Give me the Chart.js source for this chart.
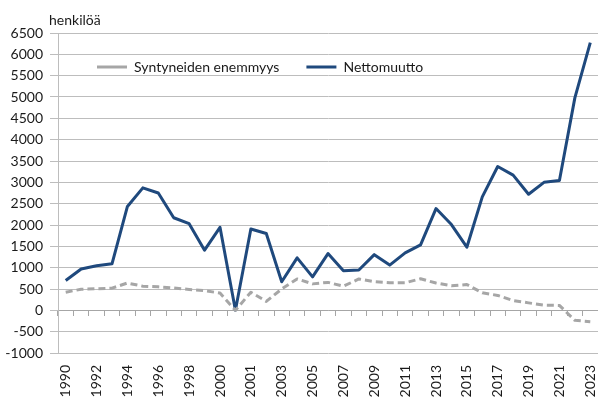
<!DOCTYPE html>
<html>
<head>
<meta charset="utf-8">
<script src="https://cdn.jsdelivr.net/npm/chart.js@4/dist/chart.umd.min.js"></script>
<style>
html,body{margin:0;padding:0;background:#ffffff;}
#wrap{width:598px;height:400px;position:relative;}
</style>
</head>
<body>
<div id="wrap"><canvas id="c" width="598" height="400"></canvas></div>
<script>
// ---- data ----
const categories = ['1990','1991','1992','1993','1994','1995','1996','1997','1998','1999','2000','',
  '2001','2002','2003','2004','2005','2006','2007','2008','2009','2010','2011','2012','2013','2014',
  '2015','2016','2017','2018','2019','2020','2021','2022','2023'];
const nettomuutto = [700, 970, 1045, 1090, 2435, 2870, 2750, 2170, 2030, 1410, 1945, 0,
  1905, 1800, 670, 1230, 785, 1330, 930, 945, 1305, 1060, 1345, 1535, 2385, 2010,
  1480, 2660, 3370, 3170, 2720, 3000, 3045, 4980, 6275];
const syntyneidenEnemmyys = [425, 495, 505, 520, 640, 565, 550, 525, 490, 460, 405, 0,
  425, 210, 500, 735, 620, 655, 565, 735, 670, 645, 645, 740, 640, 575,
  605, 410, 350, 230, 175, 120, 115, -235, -265];
const seriesNames = ['Syntyneiden enemmyys', 'Nettomuutto'];
const yMin = -1000, yMax = 6500, yStep = 500;
const unitLabel = 'henkilöä';

const FONT = 'Lato';
const TXT = '#1a1a1a';
const GRID = '#bdbdbd';

const insideLegend = {
  id: 'insideLegend',
  beforeLayout(chart) {
    const lg = chart.legend;
    if (lg && !lg.__patched) {
      const origFit = lg.fit;
      lg.fit = function () { origFit.call(this); this.__h = this.height; this.height = 0; };
      lg.__patched = true;
    }
  },
  afterLayout(chart) {
    const lg = chart.legend, ca = chart.chartArea;
    if (!lg) return;
    const pad = lg.options.labels.padding;
    lg.left = ca.left + 39 - pad;
    lg.right = chart.width;
    lg.top = ca.top + 34 - 7 - pad;
    lg.bottom = lg.top + (lg.__h || 0);
  }
};

const unitText = {
  id: 'unitText',
  afterDraw(chart) {
    const ctx = chart.ctx, ca = chart.chartArea;
    ctx.save();
    ctx.font = '14px ' + FONT;
    ctx.fillStyle = TXT;
    ctx.textAlign = 'left';
    ctx.textBaseline = 'alphabetic';
    ctx.fillText(unitLabel, ca.left - 9, ca.top - 8);
    ctx.restore();
  }
};

new Chart(document.getElementById('c'), {
  type: 'line',
  data: {
    labels: categories,
    datasets: [
      {
        label: seriesNames[0],
        data: syntyneidenEnemmyys,
        borderColor: '#a6a6a6',
        backgroundColor: '#a6a6a6',
        borderWidth: 3,
        borderDash: [7, 4],
        borderCapStyle: 'butt',
        borderJoinStyle: 'round',
        pointRadius: 0,
        tension: 0,
        fill: false
      },
      {
        label: seriesNames[1],
        data: nettomuutto,
        borderColor: '#1f497d',
        backgroundColor: '#1f497d',
        borderWidth: 3,
        borderJoinStyle: 'round',
        pointRadius: 0,
        tension: 0,
        fill: false
      }
    ]
  },
  options: {
    responsive: false,
    animation: false,
    devicePixelRatio: 1,
    layout: { padding: { top: 33, right: -2, left: 0, bottom: 0 } },
    plugins: {
      legend: {
        display: true,
        position: 'top',
        align: 'start',
        labels: {
          usePointStyle: true,
          pointStyle: 'line',
          pointStyleWidth: 30,
          boxHeight: 14,
          padding: 27,
          color: TXT,
          font: { family: FONT, size: 14 }
        }
      },
      tooltip: { enabled: false }
    },
    scales: {
      x: {
        type: 'category',
        position: 'bottom',
        offset: true,
        grid: { display: false, drawTicks: false },
        border: { display: false },
        ticks: {
          autoSkip: false,
          maxRotation: 90,
          minRotation: 90,
          padding: 12,
          color: TXT,
          font: { family: FONT, size: 14 },
          callback: function (v, i) { return i % 2 === 0 ? this.getLabelForValue(v) : ''; }
        },
        afterFit(s) { s.height = 47; s.paddingLeft = 0; s.paddingRight = 0; }
      },
      x0: {
        type: 'category',
        position: { y: 0 },
        offset: true,
        grid: { offset: true, drawOnChartArea: false, drawTicks: true, tickLength: 5, color: '#a6a6a6', lineWidth: 1 },
        border: { display: true, color: '#a6a6a6', width: 1 },
        ticks: { display: false }
      },
      y: {
        min: yMin,
        max: yMax,
        ticks: {
          stepSize: yStep,
          padding: 7,
          color: TXT,
          font: { family: FONT, size: 14 },
          callback: (v) => String(v)
        },
        grid: { color: GRID, lineWidth: 1, drawTicks: true, tickLength: 8 },
        border: { display: true, color: GRID, width: 1 },
        afterFit(s) { s.width = 58; s.paddingTop = 0; s.paddingBottom = 0; }
      }
    }
  },
  plugins: [insideLegend, unitText]
});
</script>
</body>
</html>
